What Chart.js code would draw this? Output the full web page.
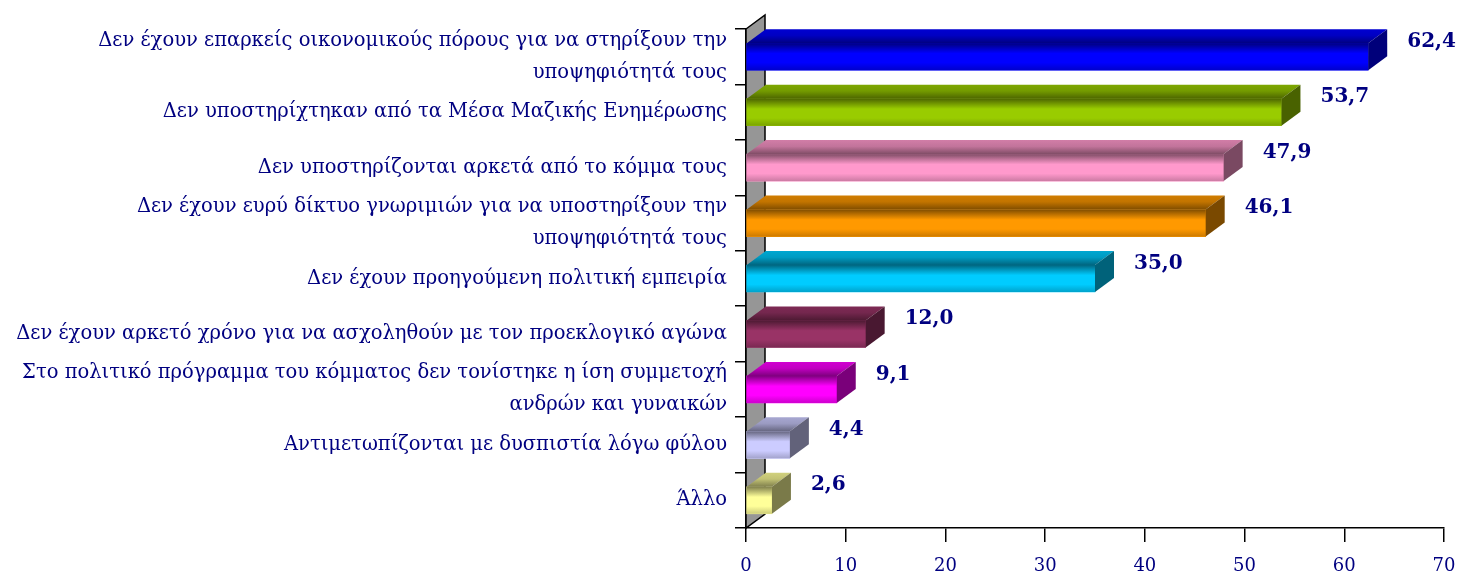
<!DOCTYPE html>
<html>
<head>
<meta charset="utf-8">
<script src="https://cdn.jsdelivr.net/npm/chart.js@4.4.1/dist/chart.umd.min.js"></script>
<style>
  html, body { margin: 0; padding: 0; background: #fff; }
  #wrap { width: 1462px; height: 576px; }
</style>
</head>
<body>
<div id="wrap"><canvas id="chart"></canvas></div>
<script>
var categories = [
	["Δεν έχουν επαρκείς οικονομικούς πόρους για να στηρίξουν την", "υποψηφιότητά τους"],
	"Δεν υποστηρίχτηκαν από τα Μέσα Μαζικής Ενημέρωσης",
	"Δεν υποστηρίζονται αρκετά από το κόμμα τους",
	["Δεν έχουν ευρύ δίκτυο γνωριμιών για να υποστηρίξουν την", "υποψηφιότητά τους"],
	"Δεν έχουν προηγούμενη πολιτική εμπειρία",
	"Δεν έχουν αρκετό χρόνο για να ασχοληθούν με τον προεκλογικό αγώνα",
	["Στο πολιτικό πρόγραμμα του κόμματος δεν τονίστηκε η ίση συμμετοχή", "ανδρών και γυναικών"],
	"Αντιμετωπίζονται με δυσπιστία λόγω φύλου",
	"Άλλο"
];
var values = [62.4, 53.7, 47.9, 46.1, 35.0, 12.0, 9.1, 4.4, 2.6];
var valueLabels = ["62,4", "53,7", "47,9", "46,1", "35,0", "12,0", "9,1", "4,4", "2,6"];
var barColors = ["#0000FF", "#99CC00", "#FF99CC", "#FF9900", "#00CCFF", "#993366", "#FF00FF", "#CCCCFF", "#FFFF99"];
var xMin = 0, xMax = 70, xStep = 10;

var NAVY = "#000080";
var DX = 19, DY = 14; // depth of the 3d effect

function shade(hex, f) {
	var r = parseInt(hex.substr(1, 2), 16), g = parseInt(hex.substr(3, 2), 16), b = parseInt(hex.substr(5, 2), 16);
	return "rgb(" + Math.round(r * f) + "," + Math.round(g * f) + "," + Math.round(b * f) + ")";
}

var bars3d = {
	id: "bars3d",
	beforeDatasetsDraw: function (chart) {
		var ctx = chart.ctx, a = chart.chartArea;
		// grey side wall
		ctx.save();
		ctx.beginPath();
		ctx.moveTo(a.left, a.top);
		ctx.lineTo(a.left + DX, a.top - DY);
		ctx.lineTo(a.left + DX, a.bottom - DY);
		ctx.lineTo(a.left, a.bottom);
		ctx.closePath();
		ctx.fillStyle = "#969696";
		ctx.fill();
		ctx.lineWidth = 1.5;
		ctx.strokeStyle = "#000";
		ctx.stroke();
		ctx.restore();
	},
	afterDatasetsDraw: function (chart) {
		var ctx = chart.ctx;
		var meta = chart.getDatasetMeta(0);
		ctx.save();
		meta.data.forEach(function (bar, i) {
			var c = barColors[i];
			var x0 = bar.base, x1 = bar.x;
			var yt = bar.y - bar.height / 2, yb = bar.y + bar.height / 2;

			// front face
			var g = ctx.createLinearGradient(0, yt, 0, yb);
			g.addColorStop(0, shade(c, 0.5));
			g.addColorStop(0.38, shade(c, 1));
			g.addColorStop(0.72, shade(c, 1));
			g.addColorStop(1, shade(c, 0.8));
			ctx.fillStyle = g;
			ctx.fillRect(x0, yt, x1 - x0, yb - yt);

			// top face
			var gt = ctx.createLinearGradient(0, yt - DY, 0, yt);
			gt.addColorStop(0, shade(c, 0.82));
			gt.addColorStop(0.45, shade(c, 0.76));
			gt.addColorStop(1, shade(c, 0.5));
			ctx.fillStyle = gt;
			ctx.beginPath();
			ctx.moveTo(x0, yt);
			ctx.lineTo(x0 + DX, yt - DY);
			ctx.lineTo(x1 + DX, yt - DY);
			ctx.lineTo(x1, yt);
			ctx.closePath();
			ctx.fill();

			// right face
			ctx.fillStyle = shade(c, 0.48);
			ctx.beginPath();
			ctx.moveTo(x1, yt);
			ctx.lineTo(x1 + DX, yt - DY);
			ctx.lineTo(x1 + DX, yb - DY);
			ctx.lineTo(x1, yb);
			ctx.closePath();
			ctx.fill();

			// value label
			ctx.fillStyle = NAVY;
			ctx.font = "bold 20px 'DejaVu Serif'";
			ctx.textAlign = "left";
			ctx.textBaseline = "middle";
			ctx.fillText(valueLabels[i], x1 + DX + 20, bar.y - 15);
		});
		ctx.restore();
	}
};

var chart = new Chart(document.getElementById("chart").getContext("2d"), {
	type: "bar",
	data: {
		labels: categories,
		datasets: [{
			data: values,
			backgroundColor: barColors,
			borderWidth: 0,
			barThickness: 27
		}]
	},
	options: {
		indexAxis: "y",
		responsive: true,
		maintainAspectRatio: false,
		animation: false,
		layout: { padding: { top: 29, right: 18, left: 0, bottom: 0 } },
		plugins: { legend: { display: false }, tooltip: { enabled: false } },
		scales: {
			x: {
				min: xMin,
				max: xMax,
				ticks: {
					stepSize: xStep,
					color: NAVY,
					padding: 14,
					font: { family: "'DejaVu Serif'", size: 18 }
				},
				grid: { drawOnChartArea: false, tickLength: 14, color: "#000", lineWidth: 1.5 },
				border: { color: "#000", width: 1.5 },
				afterFit: function (scale) {
					scale.height = 48;
					scale.paddingLeft = 0;
					scale.paddingRight = 0;
				}
			},
			y: {
				ticks: {
					autoSkip: false,
					color: NAVY,
					padding: 8,
					font: { family: "'DejaVu Serif'", size: 19.5, lineHeight: 1.64 }
				},
				grid: { drawOnChartArea: false, tickLength: 11, color: "#000", lineWidth: 1.5, offset: true },
				border: { color: "#000", width: 2 },
				afterFit: function (scale) { scale.width = 746; }
			}
		}
	},
	plugins: [bars3d]
});
</script>
</body>
</html>
